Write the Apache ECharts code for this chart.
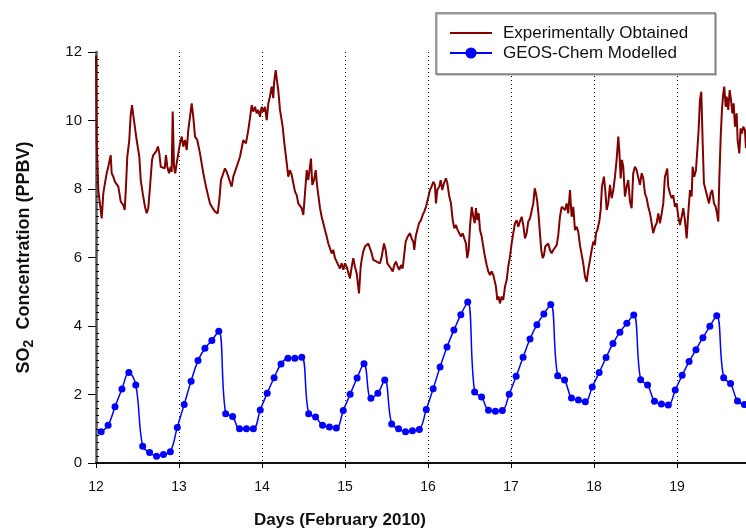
<!DOCTYPE html>
<html>
<head>
<meta charset="utf-8">
<script src="https://cdn.jsdelivr.net/npm/echarts@6/dist/echarts.min.js"></script>
<style>
  html, body { margin: 0; padding: 0; background: #ffffff; }
  #chart { width: 746px; height: 531px; }
</style>
</head>
<body>
<div id="chart"></div>
<script>
// Day-of-month tick values along the time axis
const dayTicks = [12, 13, 14, 15, 16, 17, 18, 19];
// Concentration tick values
const concTicks = [0, 2, 4, 6, 8, 10, 12];

// Measured SO2 (ppbv): time in days of February 2010
const expDays = [
  12.000, 12.008, 12.028, 12.069, 12.088, 12.108, 12.129, 12.148, 12.177, 12.189,
  12.208, 12.229, 12.269, 12.298, 12.329, 12.346, 12.361, 12.377, 12.401, 12.418,
  12.434, 12.449, 12.470, 12.490, 12.522, 12.539, 12.563, 12.590, 12.611, 12.630,
  12.651, 12.675, 12.690, 12.723, 12.747, 12.763, 12.780, 12.804, 12.828, 12.843,
  12.859, 12.880, 12.900, 12.912, 12.924, 12.940, 12.955, 12.972, 12.992, 13.012,
  13.033, 13.052, 13.072, 13.093, 13.112, 13.133, 13.153, 13.172, 13.193, 13.220,
  13.253, 13.293, 13.325, 13.353, 13.373, 13.406, 13.434, 13.466, 13.486, 13.506,
  13.534, 13.554, 13.575, 13.594, 13.614, 13.635, 13.654, 13.695, 13.735, 13.775,
  13.807, 13.835, 13.855, 13.876, 13.895, 13.916, 13.936, 13.955, 13.976, 13.996,
  14.016, 14.036, 14.057, 14.076, 14.096, 14.117, 14.136, 14.145, 14.165, 14.184,
  14.196, 14.217, 14.237, 14.249, 14.265, 14.289, 14.317, 14.337, 14.358, 14.377,
  14.398, 14.418, 14.437, 14.458, 14.478, 14.498, 14.518, 14.539, 14.558, 14.578,
  14.590, 14.606, 14.627, 14.647, 14.663, 14.678, 14.699, 14.719, 14.739, 14.759,
  14.780, 14.799, 14.819, 14.840, 14.859, 14.880, 14.900, 14.919, 14.940, 14.960,
  14.980, 15.000, 15.020, 15.040, 15.060, 15.081, 15.100, 15.120, 15.141, 15.169,
  15.189, 15.201, 15.220, 15.241, 15.261, 15.281, 15.301, 15.322, 15.341, 15.361,
  15.382, 15.401, 15.422, 15.442, 15.470, 15.490, 15.510, 15.534, 15.554, 15.575,
  15.594, 15.614, 15.635, 15.654, 15.675, 15.695, 15.711, 15.731, 15.755, 15.783,
  15.803, 15.823, 15.835, 15.852, 15.871, 15.892, 15.916, 15.936, 15.955, 15.976,
  15.996, 16.004, 16.024, 16.044, 16.064, 16.084, 16.096, 16.112, 16.136, 16.153,
  16.172, 16.193, 16.217, 16.233, 16.257, 16.277, 16.298, 16.317, 16.337, 16.358,
  16.377, 16.398, 16.418, 16.437, 16.458, 16.473, 16.490, 16.506, 16.527, 16.546,
  16.563, 16.578, 16.594, 16.611, 16.627, 16.647, 16.666, 16.687, 16.707, 16.727,
  16.747, 16.767, 16.787, 16.807, 16.819, 16.835, 16.852, 16.867, 16.888, 16.907,
  16.928, 16.948, 16.967, 16.988, 17.008, 17.028, 17.048, 17.069, 17.088, 17.108,
  17.129, 17.148, 17.169, 17.189, 17.208, 17.229, 17.249, 17.269, 17.286, 17.301,
  17.317, 17.334, 17.349, 17.365, 17.382, 17.398, 17.413, 17.430, 17.449, 17.470,
  17.490, 17.510, 17.530, 17.551, 17.570, 17.590, 17.611, 17.630, 17.651, 17.671,
  17.690, 17.711, 17.731, 17.751, 17.771, 17.792, 17.811, 17.831, 17.852, 17.871,
  17.892, 17.912, 17.931, 17.952, 17.972, 17.992, 18.012, 18.024, 18.040, 18.064,
  18.081, 18.096, 18.120, 18.136, 18.153, 18.172, 18.193, 18.213, 18.233, 18.253,
  18.273, 18.293, 18.305, 18.322, 18.337, 18.353, 18.373, 18.394, 18.413, 18.434,
  18.454, 18.473, 18.494, 18.514, 18.534, 18.554, 18.575, 18.594, 18.614, 18.635,
  18.654, 18.675, 18.695, 18.714, 18.735, 18.755, 18.775, 18.795, 18.816, 18.835,
  18.855, 18.867, 18.883, 18.895, 18.916, 18.936, 18.955, 18.976, 18.996, 19.016,
  19.036, 19.057, 19.076, 19.096, 19.117, 19.136, 19.157, 19.177, 19.189, 19.208,
  19.229, 19.245, 19.261, 19.277, 19.293, 19.310, 19.325, 19.345, 19.365, 19.386,
  19.406, 19.425, 19.446, 19.466, 19.482, 19.498, 19.510, 19.527, 19.542, 19.558,
  19.570, 19.587, 19.599, 19.618, 19.635, 19.651, 19.667, 19.683, 19.699, 19.719,
  19.731, 19.751, 19.767, 19.783, 19.799, 19.819, 19.831
];
const expValues = [
  11.90, 9.43, 7.97, 7.14, 7.87, 8.17, 8.46, 8.65, 8.99, 8.46,
  8.36, 8.21, 8.07, 7.63, 7.53, 7.39, 8.07, 8.94, 9.43, 10.16,
  10.45, 10.16, 10.21, 9.43, 8.94, 8.26, 7.87, 7.48, 7.29, 7.44,
  8.07, 8.85, 8.99, 9.09, 9.24, 9.04, 8.65, 8.70, 8.60, 8.99,
  8.65, 8.46, 8.65, 8.50, 10.26, 8.65, 8.46, 8.75, 8.70, 9.33,
  9.53, 9.24, 9.43, 9.14, 9.72, 9.67, 10.50, 10.11, 9.53, 9.43,
  9.04, 8.46, 8.07, 7.78, 7.58, 7.44, 7.34, 7.29, 7.68, 8.26,
  8.46, 8.60, 8.50, 8.36, 8.21, 8.07, 8.36, 8.65, 8.94, 9.43,
  9.33, 9.72, 10.06, 10.45, 10.26, 10.40, 10.21, 10.31, 10.11, 10.40,
  10.26, 10.40, 10.01, 10.50, 10.70, 10.99, 10.65, 11.09, 11.47, 11.09,
  10.89, 10.31, 10.36, 9.82, 9.43, 8.94, 8.36, 8.55, 8.41, 8.46,
  7.92, 7.82, 7.58, 7.53, 7.44, 7.24, 7.87, 8.55, 8.26, 8.65,
  8.89, 8.12, 8.26, 8.55, 8.12, 8.07, 7.44, 7.19, 7.00, 6.80,
  6.61, 6.41, 6.27, 6.12, 6.22, 5.98, 5.88, 5.78, 5.68, 5.83,
  5.64, 5.83, 5.73, 5.68, 5.39, 5.73, 5.98, 5.73, 5.54, 4.95,
  5.73, 5.93, 6.17, 6.32, 6.36, 6.41, 6.46, 6.12, 5.93, 5.93,
  5.88, 5.93, 5.83, 6.02, 6.41, 6.22, 5.83, 5.78, 5.68, 5.59,
  5.78, 5.88, 5.73, 5.64, 5.78, 5.68, 6.02, 6.46, 6.61, 6.71,
  6.56, 6.46, 6.22, 6.61, 6.80, 7.00, 7.09, 7.24, 7.34, 7.48,
  7.68, 7.73, 7.97, 8.07, 8.21, 8.12, 7.58, 7.97, 8.07, 8.26,
  7.97, 8.17, 8.31, 8.17, 7.78, 7.58, 7.09, 6.85, 6.95, 6.80,
  6.71, 6.61, 6.71, 6.56, 6.41, 5.98, 6.22, 6.90, 7.48, 7.19,
  7.00, 7.44, 7.09, 7.29, 6.80, 6.61, 6.32, 6.02, 5.78, 5.59,
  5.49, 5.59, 5.49, 5.54, 5.15, 4.76, 4.86, 4.66, 4.86, 4.76,
  5.15, 5.34, 5.73, 6.02, 6.41, 6.71, 7.00, 7.09, 6.90, 7.05,
  7.19, 6.95, 6.56, 6.71, 7.05, 7.14, 7.09, 7.58, 8.02, 7.87,
  7.63, 7.19, 6.71, 6.22, 5.98, 6.07, 6.32, 6.27, 6.41, 6.22,
  6.12, 6.22, 6.27, 6.36, 6.66, 7.19, 7.48, 7.53, 7.39, 7.58,
  7.29, 7.97, 7.19, 7.48, 6.80, 6.90, 6.75, 6.36, 6.32, 5.83,
  5.44, 5.29, 5.64, 5.93, 6.22, 6.46, 6.36, 6.71, 6.80, 7.05,
  7.39, 8.07, 8.36, 7.97, 7.39, 7.58, 8.12, 7.73, 7.97, 8.36,
  8.85, 9.53, 9.14, 8.31, 8.85, 8.65, 7.78, 8.07, 8.26, 7.63,
  7.44, 8.46, 8.65, 8.55, 8.60, 8.12, 8.46, 8.31, 7.87, 7.73,
  7.48, 7.29, 7.00, 6.71, 6.90, 7.00, 7.29, 7.00, 7.29, 7.58,
  8.36, 8.46, 8.60, 8.07, 7.87, 7.73, 7.82, 7.48, 7.58, 7.19,
  6.95, 7.19, 7.44, 7.09, 6.56, 7.29, 7.97, 7.78, 8.65, 8.36,
  8.55, 9.14, 9.72, 10.60, 10.84, 9.33, 8.17, 8.12, 7.78, 7.58,
  7.87, 7.97, 7.58, 7.48, 7.29, 7.05, 8.26, 9.53, 10.31, 10.79,
  10.99, 10.40, 10.70, 10.31, 10.89, 10.60, 10.21, 10.50, 9.82, 10.21,
  9.43, 9.04, 9.77, 9.62, 9.82, 9.72, 9.19
];

// GEOS-Chem model output (ppbv), two-hourly from 01:30 on 12 Feb
const modelStartHour = 1.5;
const modelStepHours = 2;
const modelValues = [
  0.91, 1.10, 1.64, 2.16, 2.64, 2.28, 0.49, 0.31, 0.20, 0.25, 0.33, 1.04,
  1.71, 2.39, 2.99, 3.35, 3.58, 3.85, 1.44, 1.36, 1.00, 1.00, 1.00, 1.55,
  2.04, 2.49, 2.89, 3.06, 3.06, 3.09, 1.44, 1.34, 1.10, 1.05, 1.02, 1.53,
  2.01, 2.48, 2.90, 1.89, 2.04, 2.42, 1.14, 1.00, 0.91, 0.94, 0.98, 1.56,
  2.17, 2.80, 3.39, 3.88, 4.33, 4.70, 2.07, 1.93, 1.54, 1.51, 1.53, 2.01,
  2.53, 3.09, 3.62, 4.04, 4.35, 4.63, 2.55, 2.42, 1.90, 1.84, 1.79, 2.22,
  2.64, 3.08, 3.49, 3.82, 4.08, 4.32, 2.43, 2.28, 1.80, 1.72, 1.69, 2.13,
  2.56, 2.96, 3.31, 3.66, 3.99, 4.30, 2.49, 2.32, 1.81, 1.71
];

const seriesNames = ['Experimentally Obtained', 'GEOS-Chem Modelled'];

const expData = expDays.map((d, i) => [d, expValues[i]]);
const modelData = modelValues.map((v, i) => [12 + (modelStartHour + i * modelStepHours) / 24, v]);

const FONT = '"Liberation Sans", Arial, sans-serif';
const dayMin = dayTicks[0];
const dayMax = 19.88;

const chart = echarts.init(document.getElementById('chart'), null, { renderer: 'canvas' });

chart.setOption({
  animation: false,
  backgroundColor: '#ffffff',
  grid: { left: 96, right: -4, top: 52, bottom: 68, containLabel: false, outerBoundsMode: 'none' },
  legend: {
    data: [
      // measured series: plain line sample, no marker
      { name: seriesNames[0], itemStyle: { opacity: 0 } },
      { name: seriesNames[1] }
    ],
    orient: 'vertical',
    left: 436,
    top: 13,
    padding: [11, 27, 12, 13],
    itemWidth: 42,
    itemHeight: 14,
    itemGap: 2,
    backgroundColor: '#ffffff',
    borderColor: '#808080',
    borderWidth: 1.5,
    borderRadius: 0,
    shadowColor: 'rgba(0,0,0,0.25)',
    shadowOffsetX: 1,
    shadowOffsetY: 1,
    shadowBlur: 0,
    textStyle: { fontFamily: FONT, fontSize: 17, color: '#111', lineHeight: 18, padding: [0, 0, 0, 6] },
    z: 10
  },
  xAxis: [
    {
      type: 'value', position: 'bottom', min: dayMin, max: dayMax, interval: 1,
      axisLine: { show: true, lineStyle: { color: '#000', width: 1.6 } },
      axisTick: { show: true, inside: false, length: 5, lineStyle: { color: '#000', width: 1 } },
      axisLabel: {
        show: true, margin: 17, fontFamily: FONT, fontSize: 14, color: '#111',
        formatter: v => (dayTicks.indexOf(v) >= 0 ? String(v) : '')
      },
      splitLine: { show: true, lineStyle: { color: '#000', width: 1, type: [1, 3] } }
    },
    {
      type: 'value', position: 'top', min: dayMin, max: dayMax, interval: 1,
      axisLine: { show: true, lineStyle: { color: '#000', width: 1.6 } },
      axisTick: { show: true, inside: true, length: 5, lineStyle: { color: '#000', width: 1 } },
      axisLabel: { show: false },
      splitLine: { show: false }
    }
  ],
  yAxis: [
    {
      type: 'value', position: 'left', min: concTicks[0], max: concTicks[concTicks.length - 1], interval: 2,
      axisLine: { show: true, lineStyle: { color: '#555', width: 2.5 } },
      axisTick: { show: true, inside: false, length: 8, lineStyle: { color: '#000', width: 1 } },
      axisLabel: { show: true, margin: 14, fontFamily: FONT, fontSize: 15, color: '#111' },
      splitLine: { show: false },
      name: '{a|SO}{b|2}{a|  Concentration (PPBV)}',
      nameLocation: 'middle',
      nameRotate: 90,
      nameGap: 60,
      nameTextStyle: {
        rich: {
          a: { fontFamily: FONT, fontSize: 18, fontWeight: 'bold', color: '#111', lineHeight: 24, verticalAlign: 'middle' },
          b: { fontFamily: FONT, fontSize: 14, fontWeight: 'bold', color: '#111', lineHeight: 14, verticalAlign: 'bottom' }
        }
      }
    },
    {
      type: 'value', position: 'left', min: concTicks[0], max: concTicks[concTicks.length - 1], interval: 2,
      axisLine: { show: false },
      axisTick: { show: false, inside: true },
      minorTick: { show: true, splitNumber: 10, length: 3, lineStyle: { color: '#000', width: 1 } },
      axisLabel: { show: false },
      splitLine: { show: false }
    }
  ],
  graphic: [
    {
      type: 'text', left: 254, top: 512, z: 10,
      style: { text: 'Days (February 2010)', font: 'bold 17px ' + FONT, fill: '#111' }
    }
  ],
  series: [
    {
      name: seriesNames[0], type: 'line', xAxisIndex: 0, yAxisIndex: 0,
      data: expData, symbol: 'none', showSymbol: false,
      lineStyle: { color: '#800000', width: 2 },
      itemStyle: { color: '#800000' },
      z: 3
    },
    {
      name: seriesNames[1], type: 'line', xAxisIndex: 0, yAxisIndex: 0,
      data: modelData, smooth: 0.4, symbol: 'circle', symbolSize: 7,
      lineStyle: { color: '#0000ff', width: 1.5 },
      itemStyle: { color: '#0000ff' },
      z: 4
    }
  ]
});
</script>
</body>
</html>
